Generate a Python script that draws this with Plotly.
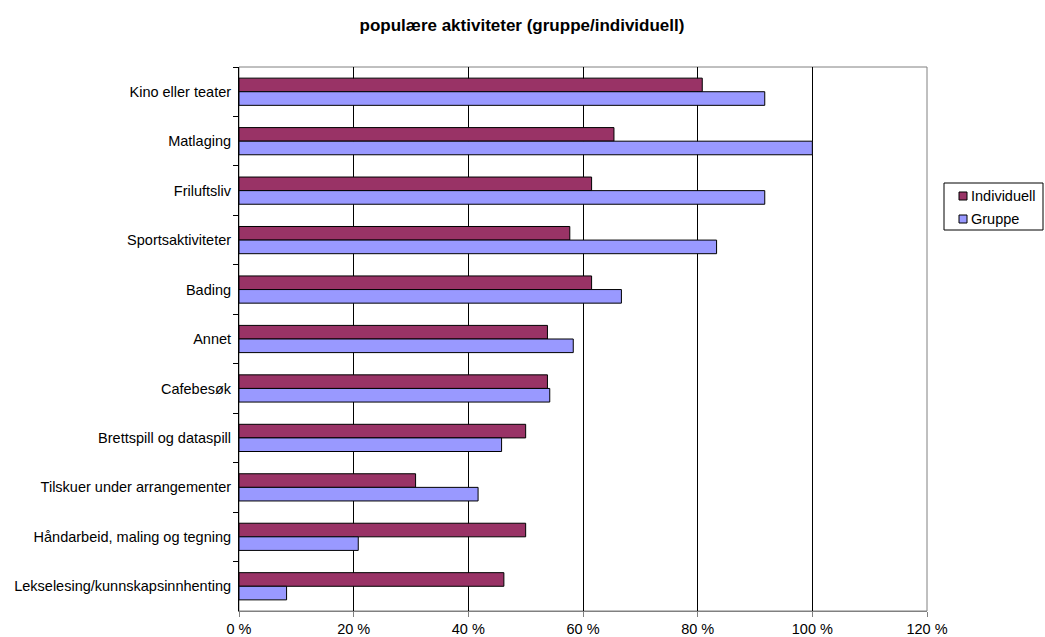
import plotly.graph_objects as go

categories = ["Kino eller teater", "Matlaging", "Friluftsliv", "Sportsaktiviteter", "Bading",
              "Annet", "Cafebesøk", "Brettspill og dataspill", "Tilskuer under arrangementer",
              "Håndarbeid, maling og tegning", "Lekselesing/kunnskapsinnhenting"]
individuell = [80.8, 65.4, 61.5, 57.7, 61.5, 53.8, 53.8, 50.0, 30.8, 50.0, 46.2]
gruppe = [91.7, 100.0, 91.7, 83.3, 66.7, 58.3, 54.2, 45.8, 41.7, 20.8, 8.3]
tick_vals = [0, 20, 40, 60, 80, 100, 120]
tick_text = ["0 %", "20 %", "40 %", "60 %", "80 %", "100 %", "120 %"]
series_names = ["Individuell", "Gruppe"]
series_colors = ["#993366", "#9999FF"]

fig = go.Figure()
for name, vals, col in zip(series_names, [individuell, gruppe], series_colors):
    fig.add_trace(go.Bar(y=categories, x=vals, name=name, orientation="h",
                         marker=dict(color=col, line=dict(color="#000000", width=1))))

# plot area in pixels: x 239..927, y 67..611
PL, PR, PT, PB = 239, 927, 67, 611
W, H = PR - PL, PB - PT
def px(x):
    return (x - PL) / W
def py(y):
    return (PB - y) / H

shapes = [dict(type="rect", xref="paper", yref="paper", x0=0, x1=1, y0=0, y1=1,
               line=dict(color="#808080", width=1), layer="below"),
          dict(type="rect", xref="paper", yref="paper", x0=px(944), x1=px(1043),
               y0=py(230), y1=py(183), line=dict(color="#000000", width=1), fillcolor="white")]
annotations = []
for i, (name, col) in enumerate(zip(series_names, series_colors)):
    top = 192 + i * 23
    shapes.append(dict(type="rect", xref="paper", yref="paper", x0=px(959), x1=px(967),
                       y0=py(top + 8), y1=py(top), line=dict(color="#000000", width=1),
                       fillcolor=col))
    annotations.append(dict(x=px(969), y=py(top + 4), xref="paper", yref="paper", text=name,
                            showarrow=False, xanchor="left", yanchor="middle",
                            font=dict(size=14.5)))

fig.update_layout(
    width=1045, height=637,
    margin=dict(l=PL, r=1045 - PR, t=PT, b=637 - PB),
    paper_bgcolor="white", plot_bgcolor="white",
    font=dict(family="Liberation Sans, Arial, sans-serif", size=14.5, color="#000000"),
    title=dict(text="<b>populære aktiviteter (gruppe/individuell)</b>", x=0.4995, xanchor="center",
               y=0.9608, yanchor="middle", font=dict(size=17)),
    barmode="group", bargap=0.45, bargroupgap=0,
    showlegend=False,
    xaxis=dict(range=[0, 120], tickvals=tick_vals, ticktext=tick_text, showgrid=True,
               gridcolor="#000000", gridwidth=1, ticks="outside", ticklen=5, tickcolor="#808080",
               showline=True, linecolor="#808080", linewidth=1, zeroline=False,
               tickfont=dict(size=14.5), automargin=False),
    yaxis=dict(autorange="reversed", ticks="outside", tickson="boundaries", ticklen=5,
               tickcolor="#000000", showline=True, linecolor="#000000", linewidth=1,
               showgrid=False, ticksuffix=" ", tickfont=dict(size=14.5), automargin=False),
    shapes=shapes,
    annotations=annotations,
)

fig.write_html("out.html", config={"displayModeBar": False},
               post_script="document.body.style.margin='0';document.body.style.overflow='hidden';")
